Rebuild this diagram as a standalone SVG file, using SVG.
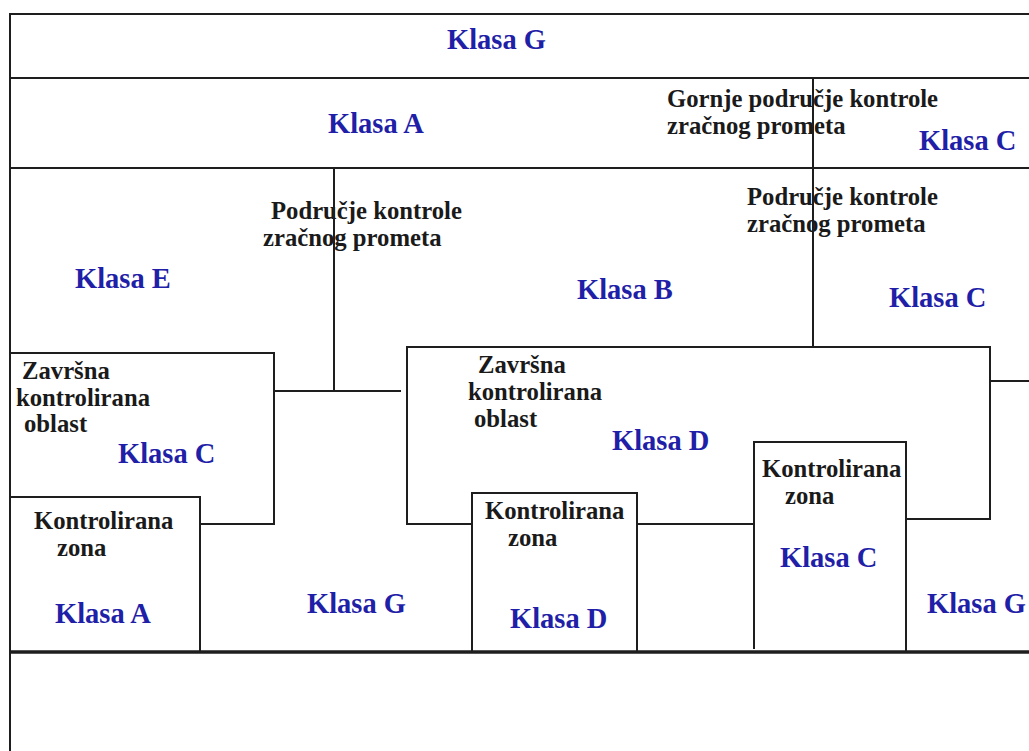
<svg xmlns="http://www.w3.org/2000/svg" width="1029" height="751" viewBox="0 0 1029 751">
<style>
.ln{stroke:#1e1e1e;stroke-width:2;fill:none;stroke-linecap:square}
.thick{stroke:#1e1e1e;stroke-width:3.5;fill:none}
.k{font-family:"Liberation Serif","Times New Roman",serif;font-weight:bold;font-size:28.5px;fill:#1f1fa8}
.t{font-family:"Liberation Serif","Times New Roman",serif;font-weight:bold;font-size:24.7px;fill:#1a1a1a}
</style>
<rect width="1029" height="751" fill="#ffffff"/>
<g id="frame">
<path class="ln" d="M10 14 H1029 M10 14 V751 M10 78 H1029 M10 168 H1029"/>
<path class="thick" d="M10 652 H1029"/>
</g>
<g id="klasa-g-top"><text class="k" x="447" y="49">Klasa G</text></g>
<g id="upper-cta">
<text class="k" x="328" y="133">Klasa A</text>
<text class="t" x="667" y="107">Gornje područje kontrole</text>
<text class="t" x="667" y="134">zračnog prometa</text>
<text class="k" x="919" y="150">Klasa C</text>
</g>
<g id="cta-left">
<text class="t" x="271" y="219">Područje kontrole</text>
<text class="t" x="263" y="246">zračnog prometa</text>
<text class="k" x="75" y="288">Klasa E</text>
</g>
<g id="cta-middle"><text class="k" x="577" y="299">Klasa B</text></g>
<g id="cta-right">
<text class="t" x="747" y="205">Područje kontrole</text>
<text class="t" x="747" y="232">zračnog prometa</text>
<text class="k" x="889" y="307">Klasa C</text>
</g>
<g id="tma-left">
<path class="ln" d="M10 353 H274 V524 H200"/>
<text class="t" x="22" y="379">Završna</text>
<text class="t" x="16" y="406">kontrolirana</text>
<text class="t" x="24" y="432">oblast</text>
<text class="k" x="118" y="463">Klasa C</text>
</g>
<g id="ctr-left">
<path class="ln" d="M10 497 H200 V652"/>
<text class="t" x="34" y="529">Kontrolirana</text>
<text class="t" x="57" y="556">zona</text>
<text class="k" x="55" y="623">Klasa A</text>
</g>
<g id="klasa-g-bottom"><text class="k" x="307" y="613">Klasa G</text></g>
<g id="tma-middle">
<path class="ln" d="M472 524 H407 V347 H990 V519 H906"/>
<text class="t" x="478" y="373">Završna</text>
<text class="t" x="468" y="400">kontrolirana</text>
<text class="t" x="474" y="427">oblast</text>
<text class="k" x="612" y="450">Klasa D</text>
</g>
<g id="ctr-middle">
<path class="ln" d="M472 652 V493 H637 V652"/>
<text class="t" x="485" y="519">Kontrolirana</text>
<text class="t" x="508" y="546">zona</text>
<text class="k" x="510" y="628">Klasa D</text>
</g>
<g id="ctr-right">
<path class="ln" d="M754 648 V442 H906 V652"/>
<text class="t" x="762" y="477">Kontrolirana</text>
<text class="t" x="785" y="504">zona</text>
<text class="k" x="780" y="567">Klasa C</text>
</g>
<g id="klasa-g-right"><text class="k" x="927" y="613">Klasa G</text></g>
<g id="connectors">
<path class="ln" d="M334 168 V391"/>
<path class="ln" d="M274 391 H400"/>
<path class="ln" d="M813 78 V346"/>
<path class="ln" d="M990 381 H1029"/>
<path class="ln" d="M637 524 H752"/>
</g>
</svg>
